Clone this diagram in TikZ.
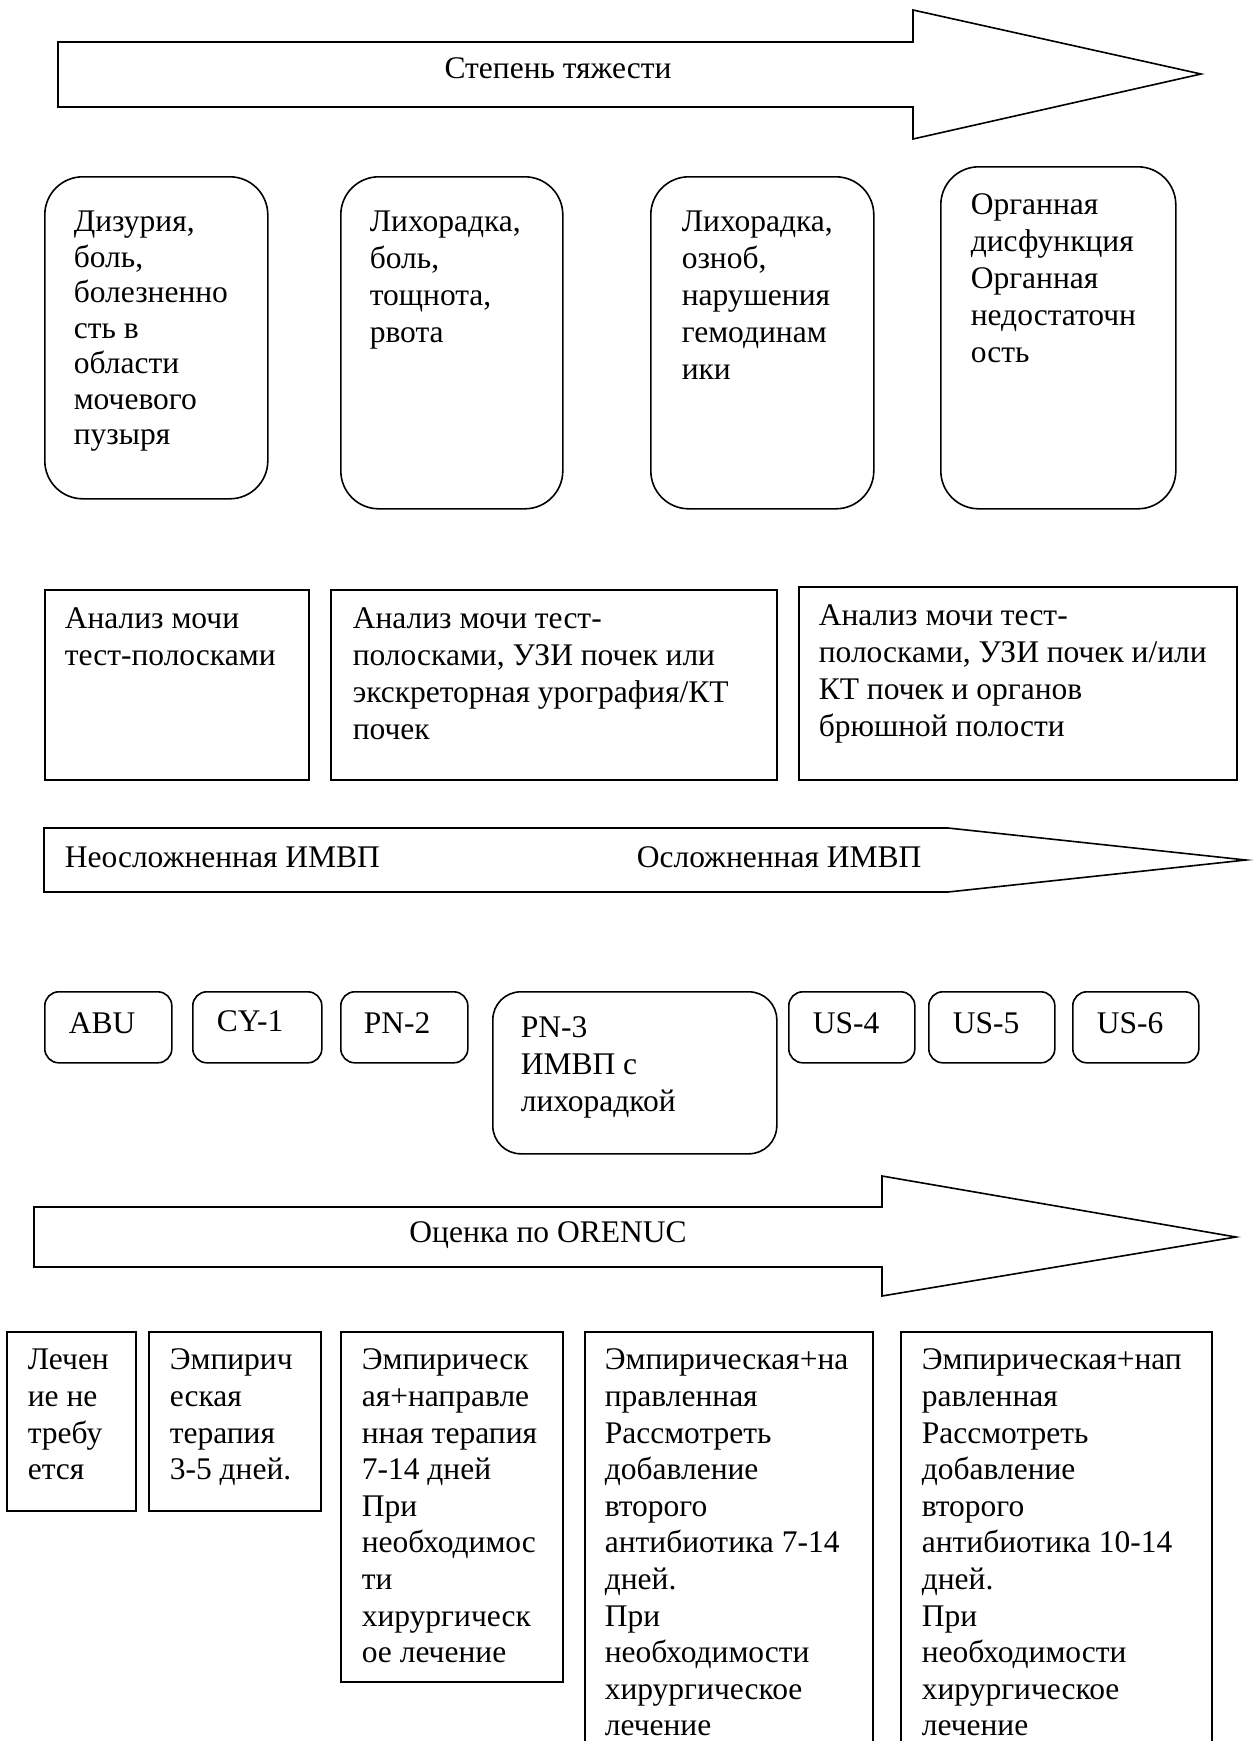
\documentclass[tikz,border=0pt]{standalone}
\usepackage{fontspec}
\setmainfont{Liberation Serif}
\begin{document}
\begin{tikzpicture}[x=1pt,y=-1pt, line width=1.6pt,
  txt/.style={anchor=north west, inner sep=0pt, align=left, font=\fontsize{31.5}{37}\selectfont},
  txtb/.style={anchor=north west, inner sep=0pt, align=left, font=\fontsize{31.5}{35.5}\selectfont},
  txtc/.style={anchor=north west, inner sep=0pt, align=left, font=\fontsize{31.5}{36.6}\selectfont},
  lbl/.style={anchor=base, inner sep=0pt, font=\fontsize{31.5}{37}\selectfont},
  bl/.style={anchor=base west, inner sep=0pt, font=\fontsize{31.5}{37}\selectfont},
  outl/.style={draw, black, line width=1.6pt, line join=miter},
  rbig/.style={draw, rounded corners=38pt, anchor=north west, inner sep=0pt},
  rsmall/.style={draw, rounded corners=14pt, anchor=north west, inner sep=0pt},
  rmid/.style={draw, rounded corners=28pt, anchor=north west, inner sep=0pt},
  sbox/.style={draw, anchor=north west, inner sep=0pt}]
\useasboundingbox (0,0) rectangle (1255,1741);
\clip (0,0) rectangle (1255,1741);

% top arrow
\draw[outl] (58,42) -- (913,42) -- (913,10) -- (1201,74) -- (913,139) -- (913,107) -- (58,107) -- cycle;
\node[lbl] (sev) at (558,78) {Степень тяжести};

% symptom boxes
\node[rbig, minimum width=223pt, minimum height=322pt] (r1) at (44,176) {};
\node[rbig, minimum width=222pt, minimum height=332pt] (r2) at (340,176) {};
\node[rbig, minimum width=223pt, minimum height=332pt] (r3) at (650,176) {};
\node[rbig, minimum width=235pt, minimum height=342pt] (r4) at (940,166) {};
\node[txtb] (t1) at (73,206.15) {\strut Дизурия,\\боль,\\болезненно\\сть в\\области\\мочевого\\пузыря};
\node[txt] (t2) at (369,205.1) {\strut Лихорадка,\\боль,\\тощнота,\\рвота};
\node[txt] (t3) at (681,205.1) {\strut Лихорадка,\\озноб,\\нарушения\\гемодинам\\ики};
\node[txt] (t4) at (970,188.1) {\strut Органная\\дисфункция\\Органная\\недостаточн\\ость};

% diagnostics boxes
\node[sbox, minimum width=264pt, minimum height=190pt] (a1) at (44,589) {};
\node[sbox, minimum width=446pt, minimum height=190pt] (a2) at (330,589) {};
\node[sbox, minimum width=438pt, minimum height=193pt] (a3) at (798,586) {};
\node[txt] (at1) at (64,602.1) {\strut Анализ мочи\\тест-полосками};
\node[txt] (at2) at (352,602.1) {\strut Анализ мочи тест-\\полосками, УЗИ почек или\\экскреторная урография/КТ\\почек};
\node[txt] (at3) at (818,599.1) {\strut Анализ мочи тест-\\полосками, УЗИ почек и/или\\КТ почек и органов\\брюшной полости};

% pentagon
\draw[outl] (44,828) -- (948,828) -- (1246,860) -- (948,892) -- (44,892) -- cycle;
\node[bl] (unc) at (64,867) {Неосложненная ИМВП};
\node[bl] (cmp) at (636,867) {Осложненная ИМВП};

% small rounded boxes
\node[rsmall, minimum width=127pt, minimum height=71pt] (abu) at (44,991) {};
\node[rsmall, minimum width=129pt, minimum height=71pt] (cy) at (192,991) {};
\node[rsmall, minimum width=127pt, minimum height=71pt] (pn2) at (340,991) {};
\node[rmid, minimum width=284pt, minimum height=162pt] (pn3) at (492,991) {};
\node[rsmall, minimum width=126pt, minimum height=71pt] (us4) at (788,991) {};
\node[rsmall, minimum width=126pt, minimum height=71pt] (us5) at (928,991) {};
\node[rsmall, minimum width=126pt, minimum height=71pt] (us6) at (1072,991) {};
\node[bl] (labu) at (68,1033) {ABU};
\node[bl] (lcy) at (216,1031) {CY-1};
\node[bl] (lpn2) at (363,1033) {PN-2};
\node[txt] (lpn3) at (520,1011.1) {\strut PN-3\\ИМВП с\\лихорадкой};
\node[bl] (lus4) at (812,1033) {US-4};
\node[bl] (lus5) at (952,1033) {US-5};
\node[bl] (lus6) at (1096,1033) {US-6};

% bottom arrow
\draw[outl] (34,1207) -- (882,1207) -- (882,1176) -- (1236,1237) -- (882,1296) -- (882,1267) -- (34,1267) -- cycle;
\node[lbl] (oren) at (548,1242) {Оценка по ORENUC};

% treatment boxes
\node[sbox, minimum width=129pt, minimum height=179pt] (b1) at (6,1331) {};
\node[sbox, minimum width=172pt, minimum height=179pt] (b2) at (148,1331) {};
\node[sbox, minimum width=222pt, minimum height=350pt] (b3) at (340,1331) {};
\node[sbox, minimum width=288pt, minimum height=460pt] (b4) at (584,1331) {};
\node[sbox, minimum width=311pt, minimum height=460pt] (b5) at (900,1331) {};
\node[txtc] (bt1) at (27,1343.4) {\strut Лечен\\ие не\\требу\\ется};
\node[txtc] (bt2) at (169,1343.4) {\strut Эмпирич\\еская\\терапия\\3-5 дней.};
\node[txtc] (bt3) at (361,1343.4) {\strut Эмпирическ\\ая+направле\\нная терапия\\7-14 дней\\При\\необходимос\\ти\\хирургическ\\ое лечение};
\node[txtc] (bt4) at (604,1343.4) {\strut Эмпирическая+на\\правленная\\Рассмотреть\\добавление\\второго\\антибиотика 7-14\\дней.\\При\\необходимости\\хирургическое\\лечение};
\node[txtc] (bt5) at (921,1343.4) {\strut Эмпирическая+нап\\равленная\\Рассмотреть\\добавление\\второго\\антибиотика 10-14\\дней.\\При\\необходимости\\хирургическое\\лечение};
\end{tikzpicture}
\end{document}
